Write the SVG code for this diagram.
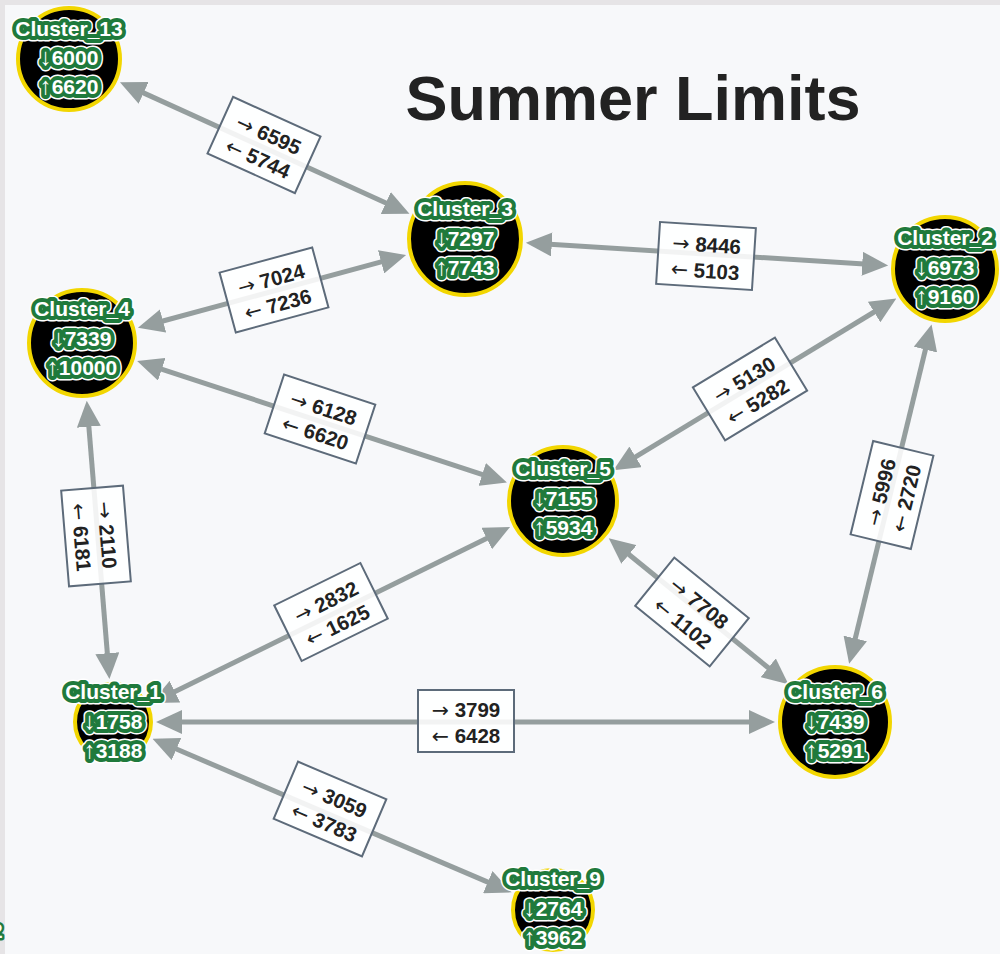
<svg xmlns="http://www.w3.org/2000/svg" width="1000" height="954" viewBox="0 0 1000 954">
  <style>
    .edge { stroke: #959e9e; stroke-width: 5; fill: none; marker-start: url(#head); marker-end: url(#head); }
    .box { fill: #ffffff; fill-opacity: 0.88; stroke: #5d6b7a; stroke-width: 2; }
    .elbl { font-family: "Liberation Sans", Arial, sans-serif; font-size: 20.5px; fill: #222222; text-anchor: middle; }
    .elbl .n { font-weight: bold; }
    .ar { font-family: "DejaVu Sans", sans-serif; font-weight: normal; }
    .na { font-family: "Liberation Sans", Arial, sans-serif; font-weight: normal; font-size: 24px; }
    .disc { fill: #000000; stroke: #f2d600; stroke-width: 4; }
    .nl { font-family: "Liberation Sans", Arial, sans-serif; font-size: 21px; font-weight: bold; text-anchor: middle; stroke-linejoin: round; }
    .nl.outer { fill: #ffffff; stroke: #ffffff; stroke-width: 11; }
    .nl.inner { fill: #ffffff; stroke: #1f7a3c; stroke-width: 8; paint-order: stroke; }
    .title { font-family: "Liberation Sans", Arial, sans-serif; font-size: 63px; font-weight: bold; fill: #222222; text-anchor: middle; }
  </style>
  <defs>
    <marker id="head" viewBox="0 0 26 24" refX="2" refY="12" markerWidth="26" markerHeight="24" markerUnits="userSpaceOnUse" orient="auto-start-reverse">
      <path d="M0,0 L26,12 L0,24 z" fill="#959e9e"/>
    </marker>
  </defs>

  <!-- canvas -->
  <rect x="0" y="0" width="1000" height="954" fill="#f7f8fa"/>
  <rect x="0" y="0" width="1000" height="5" fill="#e6e4e6"/>
  <rect x="0" y="0" width="5" height="954" fill="#e6e4e6"/>

  <text class="title" x="633" y="120">Summer Limits</text>

  <!-- connectors -->
  <g id="connectors">
    <line class="edge" x1="141.8" y1="92.1" x2="387.6" y2="203.8"/>
    <line class="edge" x1="549.8" y1="244.3" x2="864.2" y2="263.9"/>
    <line class="edge" x1="383.0" y1="261.3" x2="161.1" y2="321.5"/>
    <line class="edge" x1="159.9" y1="368.6" x2="484.1" y2="475.1"/>
    <line class="edge" x1="875.8" y1="311.0" x2="633.9" y2="457.9"/>
    <line class="edge" x1="925.9" y1="347.7" x2="854.8" y2="640.4"/>
    <line class="edge" x1="88.7" y1="424.7" x2="107.5" y2="655.2"/>
    <line class="edge" x1="173.1" y1="692.5" x2="488.5" y2="537.6"/>
    <line class="edge" x1="627.4" y1="553.3" x2="769.8" y2="669.0"/>
    <line class="edge" x1="180" y1="722" x2="751" y2="722"/>
    <line class="edge" x1="174.6" y1="748.3" x2="489.6" y2="882.9"/>

    <!-- flow labels -->
    <g transform="translate(264,145) rotate(24.4)">
      <rect class="box" x="-48" y="-31" width="96" height="62"/>
      <text class="elbl" y="-4"><tspan class="ar">→</tspan> <tspan class="n">6595</tspan></text>
      <text class="elbl" y="22"><tspan class="ar">←</tspan> <tspan class="n">5744</tspan></text>
    </g>
    <g transform="translate(706,256) rotate(3.6)">
      <rect class="box" x="-48" y="-31" width="96" height="62"/>
      <text class="elbl" y="-4"><tspan class="ar">→</tspan> <tspan class="n">8446</tspan></text>
      <text class="elbl" y="22"><tspan class="ar">←</tspan> <tspan class="n">5103</tspan></text>
    </g>
    <g transform="translate(274,290) rotate(-15.2)">
      <rect class="box" x="-48" y="-31" width="96" height="62"/>
      <text class="elbl" y="-4"><tspan class="ar">→</tspan> <tspan class="n">7024</tspan></text>
      <text class="elbl" y="22"><tspan class="ar">←</tspan> <tspan class="n">7236</tspan></text>
    </g>
    <g transform="translate(320,419) rotate(18.2)">
      <rect class="box" x="-48" y="-31" width="96" height="62"/>
      <text class="elbl" y="-4"><tspan class="ar">→</tspan> <tspan class="n">6128</tspan></text>
      <text class="elbl" y="22"><tspan class="ar">←</tspan> <tspan class="n">6620</tspan></text>
    </g>
    <g transform="translate(750,389) rotate(-31.3)">
      <rect class="box" x="-48" y="-31" width="96" height="62"/>
      <text class="elbl" y="-4"><tspan class="ar">→</tspan> <tspan class="n">5130</tspan></text>
      <text class="elbl" y="22"><tspan class="ar">←</tspan> <tspan class="n">5282</tspan></text>
    </g>
    <g transform="translate(892,495) rotate(-76.4)">
      <rect class="box" x="-48" y="-31" width="96" height="62"/>
      <text class="elbl" y="-4"><tspan class="ar">→</tspan> <tspan class="n">5996</tspan></text>
      <text class="elbl" y="22"><tspan class="ar">←</tspan> <tspan class="n">2720</tspan></text>
    </g>
    <g transform="translate(96,536) rotate(85.3)">
      <rect class="box" x="-48" y="-31" width="96" height="62"/>
      <text class="elbl" y="-4"><tspan class="ar">→</tspan> <tspan class="n">2110</tspan></text>
      <text class="elbl" y="22"><tspan class="ar">←</tspan> <tspan class="n">6181</tspan></text>
    </g>
    <g transform="translate(331,612) rotate(-26.2)">
      <rect class="box" x="-48" y="-31" width="96" height="62"/>
      <text class="elbl" y="-4"><tspan class="ar">→</tspan> <tspan class="n">2832</tspan></text>
      <text class="elbl" y="22"><tspan class="ar">←</tspan> <tspan class="n">1625</tspan></text>
    </g>
    <g transform="translate(692,612) rotate(39.1)">
      <rect class="box" x="-48" y="-31" width="96" height="62"/>
      <text class="elbl" y="-4"><tspan class="ar">→</tspan> <tspan class="n">7708</tspan></text>
      <text class="elbl" y="22"><tspan class="ar">←</tspan> <tspan class="n">1102</tspan></text>
    </g>
    <g transform="translate(466,721)">
      <rect class="box" x="-48" y="-31" width="96" height="62"/>
      <text class="elbl" y="-4"><tspan class="ar">→</tspan> <tspan class="n">3799</tspan></text>
      <text class="elbl" y="22"><tspan class="ar">←</tspan> <tspan class="n">6428</tspan></text>
    </g>
    <g transform="translate(330,809) rotate(23.1)">
      <rect class="box" x="-48" y="-31" width="96" height="62"/>
      <text class="elbl" y="-4"><tspan class="ar">→</tspan> <tspan class="n">3059</tspan></text>
      <text class="elbl" y="22"><tspan class="ar">←</tspan> <tspan class="n">3783</tspan></text>
    </g>
  </g>

  <!-- nodes -->
  <g id="cluster_13" transform="translate(69,59)">
    <circle class="disc" r="51"/>
    <text class="nl outer" y="-23">Cluster_13</text><text class="nl inner" y="-23">Cluster_13</text>
    <text class="nl outer" y="6"><tspan class="na">↓</tspan>6000</text><text class="nl inner" y="6"><tspan class="na">↓</tspan>6000</text>
    <text class="nl outer" y="35"><tspan class="na">↑</tspan>6620</text><text class="nl inner" y="35"><tspan class="na">↑</tspan>6620</text>
  </g>
  <g id="cluster_3" transform="translate(465,239)">
    <circle class="disc" r="56"/>
    <text class="nl outer" y="-23">Cluster_3</text><text class="nl inner" y="-23">Cluster_3</text>
    <text class="nl outer" y="7"><tspan class="na">↓</tspan>7297</text><text class="nl inner" y="7"><tspan class="na">↓</tspan>7297</text>
    <text class="nl outer" y="36"><tspan class="na">↑</tspan>7743</text><text class="nl inner" y="36"><tspan class="na">↑</tspan>7743</text>
  </g>
  <g id="cluster_2" transform="translate(945,269)">
    <circle class="disc" r="52"/>
    <text class="nl outer" y="-24">Cluster_2</text><text class="nl inner" y="-24">Cluster_2</text>
    <text class="nl outer" y="6"><tspan class="na">↓</tspan>6973</text><text class="nl inner" y="6"><tspan class="na">↓</tspan>6973</text>
    <text class="nl outer" y="35"><tspan class="na">↑</tspan>9160</text><text class="nl inner" y="35"><tspan class="na">↑</tspan>9160</text>
  </g>
  <g id="cluster_4" transform="translate(82,343)">
    <circle class="disc" r="53"/>
    <text class="nl outer" y="-27">Cluster_4</text><text class="nl inner" y="-27">Cluster_4</text>
    <text class="nl outer" y="3"><tspan class="na">↓</tspan>7339</text><text class="nl inner" y="3"><tspan class="na">↓</tspan>7339</text>
    <text class="nl outer" y="32"><tspan class="na">↑</tspan>10000</text><text class="nl inner" y="32"><tspan class="na">↑</tspan>10000</text>
  </g>
  <g id="cluster_5" transform="translate(563,501)">
    <circle class="disc" r="54"/>
    <text class="nl outer" y="-25">Cluster_5</text><text class="nl inner" y="-25">Cluster_5</text>
    <text class="nl outer" y="5"><tspan class="na">↓</tspan>7155</text><text class="nl inner" y="5"><tspan class="na">↓</tspan>7155</text>
    <text class="nl outer" y="34"><tspan class="na">↑</tspan>5934</text><text class="nl inner" y="34"><tspan class="na">↑</tspan>5934</text>
  </g>
  <g id="cluster_1" transform="translate(113,722)">
    <circle class="disc" r="38"/>
    <text class="nl outer" y="-23">Cluster_1</text><text class="nl inner" y="-23">Cluster_1</text>
    <text class="nl outer" y="7"><tspan class="na">↓</tspan>1758</text><text class="nl inner" y="7"><tspan class="na">↓</tspan>1758</text>
    <text class="nl outer" y="36"><tspan class="na">↑</tspan>3188</text><text class="nl inner" y="36"><tspan class="na">↑</tspan>3188</text>
  </g>
  <g id="cluster_6" transform="translate(835,722)">
    <circle class="disc" r="55"/>
    <text class="nl outer" y="-23">Cluster_6</text><text class="nl inner" y="-23">Cluster_6</text>
    <text class="nl outer" y="7"><tspan class="na">↓</tspan>7439</text><text class="nl inner" y="7"><tspan class="na">↓</tspan>7439</text>
    <text class="nl outer" y="36"><tspan class="na">↑</tspan>5291</text><text class="nl inner" y="36"><tspan class="na">↑</tspan>5291</text>
  </g>
  <g id="cluster_9" transform="translate(553,910)">
    <circle class="disc" r="40"/>
    <text class="nl outer" y="-24">Cluster_9</text><text class="nl inner" y="-24">Cluster_9</text>
    <text class="nl outer" y="6"><tspan class="na">↓</tspan>2764</text><text class="nl inner" y="6"><tspan class="na">↓</tspan>2764</text>
    <text class="nl outer" y="35"><tspan class="na">↑</tspan>3962</text><text class="nl inner" y="35"><tspan class="na">↑</tspan>3962</text>
  </g>

  <!-- label of a node lying past the left edge -->
  <text class="nl" x="-9" y="938" style="text-anchor:start;fill:#ffffff;stroke:#1f7a3c;stroke-width:5;paint-order:stroke">2</text>
</svg>
